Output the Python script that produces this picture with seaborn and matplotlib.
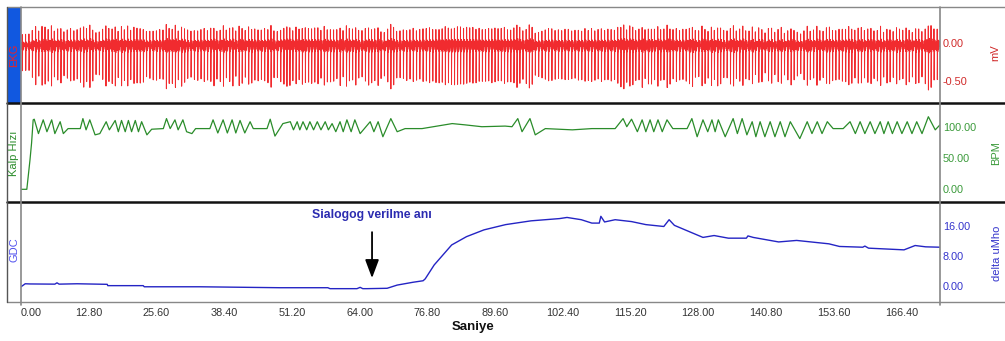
import numpy as np
import pandas as pd
import seaborn as sns
import matplotlib
matplotlib.use("Agg")
import matplotlib.pyplot as plt
from matplotlib.lines import Line2D
from matplotlib.patches import Rectangle

# Kalp hizi (s, BPM)
hr_t = [0.0, 1.1, 1.7, 2.0, 2.3, 2.5, 3.3, 4.2, 4.9, 5.8, 6.4, 7.4, 8.0, 8.9, 9.6,
        11.2, 11.7, 12.3, 13.0, 14.0, 14.9, 16.1, 16.7, 17.8, 18.4, 19.0, 19.7,
        20.3, 20.9, 21.6, 22.2, 22.8, 23.8, 24.7, 26.9, 27.5, 28.2, 29.1, 29.7,
        30.6, 31.3, 32.3, 33.0, 35.7, 36.3, 37.2, 38.2, 39.0, 39.9, 40.6, 41.4,
        42.3, 43.3, 43.9, 46.5, 47.1, 48.0, 49.5, 50.9, 51.5, 52.2, 52.7, 53.3,
        54.0, 54.6, 55.3, 56.0, 56.7, 57.5, 58.1, 58.8, 59.5, 60.3, 60.9, 61.6,
        62.4, 63.1, 64.1, 66.0, 66.7, 67.5, 68.4, 69.9, 71.1, 72.6, 75.8, 81.5,
        83.9, 87.1, 91.5, 92.8, 93.9, 94.7, 96.2, 97.2, 99.1, 104.2, 107.9,
        112.3, 113.8, 114.5, 115.4, 116.5, 117.4, 118.1, 118.9, 119.6, 120.4,
        121.2, 122.1, 123.2, 125.9, 126.8, 127.8, 128.9, 129.8, 130.6, 131.2,
        131.8, 133.1, 134.6, 135.4, 136.3, 137.2, 138.2, 138.9, 139.7, 140.6,
        141.6, 142.5, 143.5, 144.4, 145.4, 147.2, 148.6, 149.5, 150.5, 151.4,
        152.4, 153.5, 155.4, 156.7, 157.7, 158.6, 159.5, 160.5, 161.4, 162.4,
        163.1, 163.9, 164.7, 165.6, 166.5, 167.5, 168.4, 169.3, 170.3, 171.5,
        172.8, 173.7]
hr_bpm = [0, 0, 47, 74, 111, 112, 89, 111, 92, 111, 89, 108, 89, 97, 97,
          97, 113, 95, 111, 87, 89, 108, 95, 110, 92, 110, 92,
          110, 92, 110, 92, 108, 87, 96, 97, 113, 97, 111, 95,
          111, 92, 89, 97, 97, 111, 90, 111, 90, 111, 90, 110,
          90, 108, 97, 97, 112, 85, 105, 108, 95, 108, 95, 108,
          95, 108, 95, 108, 95, 108, 95, 105, 92, 108, 92, 111,
          92, 111, 89, 108, 92, 108, 84, 113, 92, 97, 97, 105,
          103, 100, 101, 100, 113, 92, 113, 87, 97, 95, 97,
          97, 113, 100, 112, 92, 111, 92, 111, 92, 111,
          92, 111, 97, 97, 113, 84, 111, 92, 111, 92,
          111, 84, 113, 89, 113, 87, 108, 84, 108, 84,
          108, 84, 108, 84, 108, 81, 108, 89, 108, 89,
          108, 97, 97, 108, 89, 108, 89, 108, 89, 108,
          89, 108, 89, 108, 89, 108, 89, 108, 89, 116,
          95, 103]

# GDC (s, delta uMho)
gdc_t = [0.0, 0.8, 1.7, 6.4, 6.8, 7.2, 10.6, 16.3, 16.4, 23.1, 23.3, 33.8, 48.9,
         58.0, 58.4, 63.5, 64.1, 64.6, 65.4, 69.2, 71.1, 74.1, 76.0, 76.4, 78.1,
         81.4, 84.2, 87.5, 91.6, 96.4, 101.8, 103.2, 105.9, 107.9, 109.3, 109.6,
         110.3, 112.3, 115.4, 118.1, 121.5, 122.5, 123.5, 126.2, 128.9, 131.0,
         133.7, 137.1, 137.4, 138.4, 143.2, 146.6, 152.7, 154.7, 159.1, 159.5,
         160.2, 166.9, 169.0, 171.0, 173.7]
gdc_val = [-0.2, 0.6, 0.55, 0.5, 0.85, 0.5, 0.6, 0.45, 0.1, 0.1, -0.2, -0.2, -0.45,
           -0.45, -0.7, -0.7, -0.35, -0.7, -0.7, -0.6, 0.25, 1.0, 1.4, 1.9, 5.6,
           10.9, 13.1, 14.9, 16.3, 17.3, 17.9, 18.2, 17.6, 16.7, 16.7, 18.5,
           17.0, 17.6, 17.1, 16.3, 15.8, 17.6, 16.1, 14.5, 12.9, 13.4,
           12.7, 12.7, 13.3, 12.9, 11.7, 12.1, 11.2, 10.5, 10.3, 10.6,
           10.05, 9.6, 10.75, 10.4, 10.3]

# one EKG beat around the R peak (s, mV above baseline)
beat_t = [-0.25, -0.17, -0.13, -0.09, -0.035, -0.012, 0.012, 0.04, 0.07, 0.11,
          0.16, 0.21, 0.26, 0.34]
beat_mv = [0.0, 0.07, 0.0, -0.03, -0.06, 0.25, -0.48, -0.08, 0.02, -0.07,
           0.09, -0.04, 0.03, 0.0]
ekg_base = -0.05

x_ticks = [0.0, 12.8, 25.6, 38.4, 51.2, 64.0, 76.8, 89.6, 102.4, 115.2, 128.0,
           140.8, 153.6, 166.4]
t_end = 173.7
mark_t = 66.35

# build the EKG from beat times taken from the heart rate trace
beats = [0.25]
while beats[-1] < t_end:
    rate = np.interp(beats[-1], hr_t, hr_bpm)
    beats.append(beats[-1] + 60.0 / max(rate, 95))
ekg_t = np.arange(0, t_end, 0.004)
ekg_mv = np.full(ekg_t.shape, ekg_base)
for b in beats:
    rate = max(np.interp(b, hr_t, hr_bpm), 80)
    gain = 1 + 0.015 * (rate - 100)
    i0, i1 = np.searchsorted(ekg_t, [b + beat_t[0], b + beat_t[-1]])
    ekg_mv[i0:i1] += gain * np.interp(ekg_t[i0:i1] - b, beat_t, beat_mv)

ekg = pd.DataFrame({"t": ekg_t, "mv": ekg_mv})
hr = pd.DataFrame({"t": hr_t, "bpm": hr_bpm})
gdc = pd.DataFrame({"t": gdc_t, "val": gdc_val})

sns.set_style("white")
plt.rcParams["font.family"] = ["Liberation Sans", "DejaVu Sans"]

W, H = 1005, 341
fig = plt.figure(figsize=(W / 100, H / 100), dpi=100)


def box(x0, y0, x1, y1):
    return [x0 / W, 1 - y1 / H, (x1 - x0) / W, (y1 - y0) / H]


ax1 = fig.add_axes(box(21, 7, 940, 103))
ax2 = fig.add_axes(box(21, 104, 940, 202))
ax3 = fig.add_axes(box(21, 202, 940, 302))

red, green, blue = "#f01418", "#2a8c2a", "#2424c4"
sns.lineplot(data=ekg, x="t", y="mv", ax=ax1, color=red, lw=0.7, alpha=0.9,
             estimator=None, sort=False)
sns.lineplot(data=hr, x="t", y="bpm", ax=ax2, color=green, lw=0.9,
             estimator=None, sort=False)
sns.lineplot(data=gdc, x="t", y="val", ax=ax3, color=blue, lw=1.0,
             estimator=None, sort=False)

ax1.set_ylim(-0.787, 0.466)
ax2.set_ylim(-20.3, 136.3)
ax3.set_ylim(-4.24, 22.3)
ax1.set_yticks([0, -0.5])
ax2.set_yticks([0, 50, 100])
ax3.set_yticks([0, 8, 16])
tick_cols = ["#d02828", "#3a9a3a", "#3434cc"]
for ax, col in zip([ax1, ax2, ax3], tick_cols):
    ax.set_xlim(0, t_end)
    ax.set_facecolor("none")
    ax.yaxis.tick_right()
    ax.set_yticklabels([f"{v:.2f}" for v in ax.get_yticks()])
    ax.tick_params(axis="y", length=0, pad=2, labelsize=7.8, labelcolor=col)
    ax.set_xlabel("")
    ax.set_ylabel("")
    for s in ax.spines.values():
        s.set_visible(False)
for ax in [ax1, ax2]:
    ax.set_xticks([])
ax3.set_xticks(x_ticks)
ax3.set_xticklabels([f"{v:.2f}" for v in x_ticks])
ax3.tick_params(axis="x", length=0, pad=4, labelsize=7.8, labelcolor="#333333")
ax3.get_xticklabels()[0].set_ha("left")

ax3.annotate("", xy=(mark_t, 2.1), xytext=(mark_t, 14.3),
             arrowprops=dict(arrowstyle="-|>,head_length=0.8,head_width=0.3",
                             color="black", lw=1.3, mutation_scale=14,
                             shrinkA=0, shrinkB=0))
ax3.text(mark_t, 18.8, "Sialogog verilme anı", ha="center", va="center",
         fontweight="bold", color="#2b2bb0", fontsize=8.8)

# frame lines
def hline(y, col, lw):
    fig.add_artist(Line2D([7 / W, 1], [1 - y / H] * 2, color=col, lw=lw))


def vline(x, y0, y1, col, lw):
    fig.add_artist(Line2D([x / W] * 2, [1 - y0 / H, 1 - y1 / H], color=col, lw=lw))


fig.add_artist(Rectangle((7 / W, 1 - 103 / H), 14 / W, 96 / H,
                         transform=fig.transFigure, color="#1158e0", lw=0))
hline(7, "#888888", 1.0)
hline(103.5, "#111111", 1.8)
hline(202, "#111111", 1.8)
hline(302, "#888888", 1.0)
vline(7, 7, 302, "#555555", 1.0)
vline(21, 7, 305, "#888888", 1.2)
vline(940, 7, 305, "#888888", 1.2)

fig.text(14 / W, 1 - 55 / H, "EKG", rotation=90, color="#e8222a",
         ha="center", va="center", fontsize=8)
fig.text(14 / W, 1 - 153 / H, "Kalp Hızı", rotation=90, color=green,
         ha="center", va="center", fontsize=8)
fig.text(14 / W, 1 - 250 / H, "GDC", rotation=90, color="#5050ee",
         ha="center", va="center", fontsize=8)
fig.text(995 / W, 1 - 53 / H, "mV", rotation=90, color="#d02828",
         ha="center", va="center", fontsize=8)
fig.text(996 / W, 1 - 153 / H, "BPM", rotation=90, color="#3a9a3a",
         ha="center", va="center", fontsize=8)
fig.text(997 / W, 1 - 253 / H, "delta uMho", rotation=90, color="#3434cc",
         ha="center", va="center", fontsize=8)
fig.text(473 / W, 1 - 327 / H, "Saniye", ha="center", va="center",
         fontweight="bold", fontsize=9.5, color="#111111")

fig.savefig("out.png", dpi=100, facecolor="white")
